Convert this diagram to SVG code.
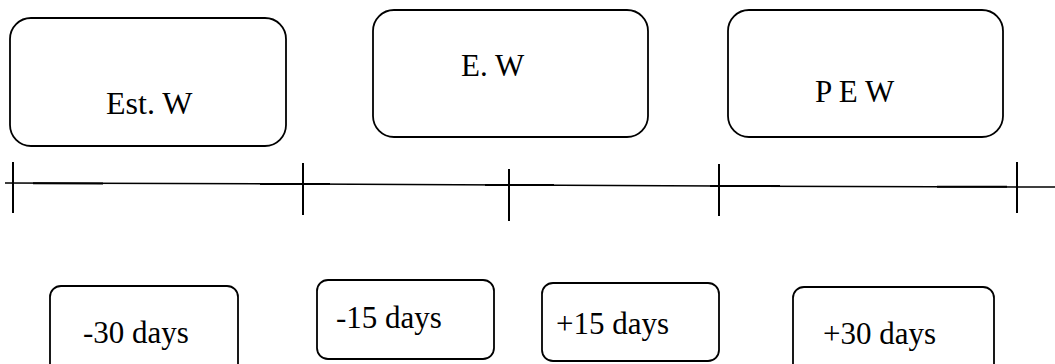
<svg xmlns="http://www.w3.org/2000/svg" width="1055" height="364" viewBox="0 0 1055 364">
<style>
.box{fill:#fff;stroke:#000;stroke-width:1.8}
.lbl{font-family:'Liberation Serif','Times New Roman',serif;font-size:31px;fill:#000}
.ln{stroke:#000;stroke-width:1.5;fill:none}
.thk{stroke:#000;stroke-width:2;fill:none}
.tick{stroke:#000;stroke-width:2;fill:none}
</style>
<rect width="1055" height="364" fill="#fff"/>
<g id="est-w">
<rect class="box" x="10" y="18" width="276" height="128" rx="21" ry="21"/>
<text class="lbl" x="106" y="114" style="font-size:32px">Est. W</text>
</g>
<g id="e-w">
<rect class="box" x="373" y="10" width="275" height="127" rx="21" ry="21"/>
<text class="lbl" x="461" y="76">E. W</text>
</g>
<g id="p-e-w">
<rect class="box" x="728" y="10" width="275" height="127" rx="21" ry="21"/>
<text class="lbl" x="815" y="102">P E W</text>
</g>
<g id="connectors">
<polyline class="ln" points="5,183 303,184 509,185 719,186 1055,187"/>
<line class="thk" x1="33" y1="183.2" x2="103" y2="183.4"/>
<line class="thk" x1="260" y1="184" x2="330" y2="184"/>
<line class="thk" x1="485" y1="185" x2="554" y2="185"/>
<line class="thk" x1="710" y1="186" x2="780" y2="186"/>
<line class="thk" x1="937" y1="186.8" x2="1007" y2="186.8"/>
<line class="tick" x1="13" y1="162" x2="13" y2="213"/>
<line class="tick" x1="303" y1="163" x2="303" y2="215"/>
<line class="tick" x1="509" y1="169" x2="509" y2="221"/>
<line class="tick" x1="719" y1="164" x2="719" y2="216"/>
<line class="tick" x1="1017" y1="162" x2="1017" y2="213"/>
</g>
<g id="minus-30">
<rect class="box" x="50" y="286" width="188" height="90" rx="11" ry="11"/>
<text class="lbl" x="83" y="343">-30 days</text>
</g>
<g id="minus-15">
<rect class="box" x="317" y="280" width="177" height="79" rx="11" ry="11"/>
<text class="lbl" x="336" y="328">-15 days</text>
</g>
<g id="plus-15">
<rect class="box" x="542" y="283" width="177" height="78" rx="11" ry="11"/>
<text class="lbl" x="556" y="334">+15 days</text>
</g>
<g id="plus-30">
<rect class="box" x="793" y="287" width="201" height="90" rx="11" ry="11"/>
<text class="lbl" x="823" y="344">+30 days</text>
</g>
</svg>
